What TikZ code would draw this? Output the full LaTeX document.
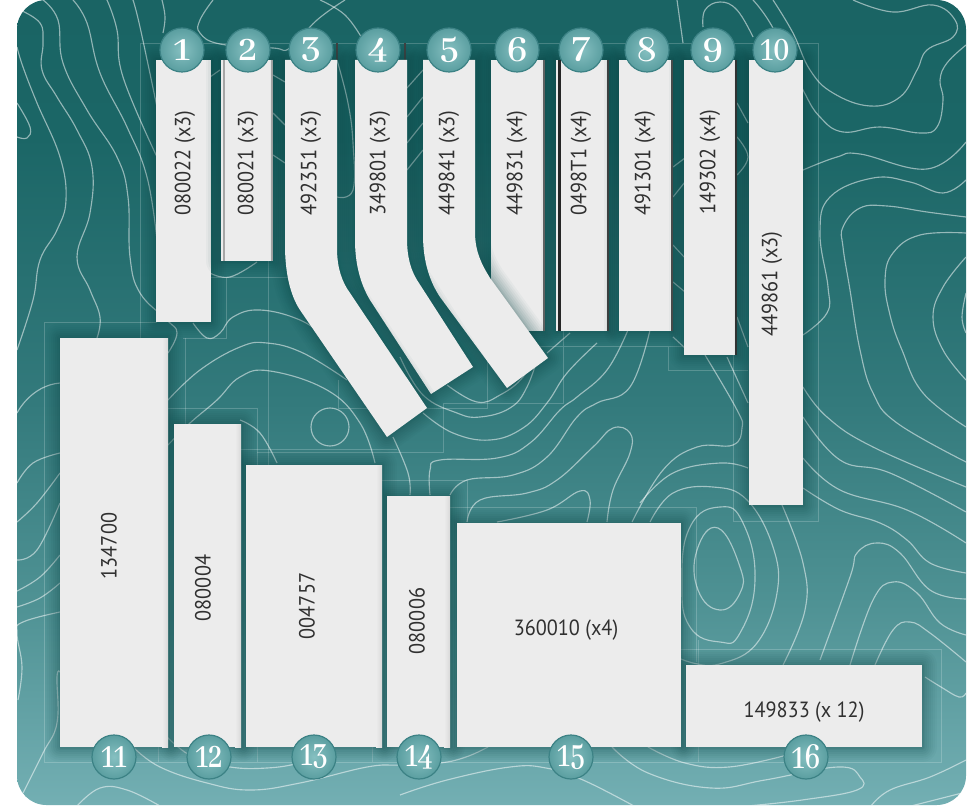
\documentclass[tikz,border=0pt]{standalone}
\usepackage{fontspec}
\usepackage{graphicx}
\setmainfont{PT Sans}
\newfontfamily\badgefont{Abhaya Libre}
\definecolor{bgA}{HTML}{1A6464}
\definecolor{bgB}{HTML}{1B6666}
\definecolor{bgC}{HTML}{337A7C}
\definecolor{bgD}{HTML}{4F9294}
\definecolor{bgE}{HTML}{73AFB3}
\definecolor{stripc}{HTML}{ECECEC}
\definecolor{shadowc}{HTML}{0C4444}
\definecolor{badgeIn}{HTML}{86C0C1}
\definecolor{badgeOut}{HTML}{5A9EA0}
\definecolor{badgeRim}{HTML}{3C8285}
\definecolor{textc}{HTML}{303030}
\pgfdeclareverticalshading{bgshade}{100bp}{color(0bp)=(bgE); color(25bp)=(bgE); color(37.5bp)=(bgD); color(50bp)=(bgC); color(66.5bp)=(bgB); color(75bp)=(bgA); color(100bp)=(bgA)}
\tikzset{
  contour/.style={draw=white,draw opacity=.52,line width=.85pt,line join=round},
  gridline/.style={draw=white,draw opacity=.2,line width=.6pt},
  stripfill/.style={fill=stripc,draw=none},
  edgeline/.style={draw=#1,line width=1.5pt},
  striplabel/.style={text=textc,font=\fontsize{16.5}{18}\selectfont,inner sep=0pt,rotate=90},
  flatlabel/.style={text=textc,font=\fontsize{16.5}{18}\selectfont,inner sep=0pt},
  badge/.style={circle,minimum size=33pt,inner sep=0pt,draw=badgeRim,line width=.9pt,
    inner color=badgeIn,outer color=badgeOut,text=white,
    font=\badgefont\bfseries\fontsize{30}{30}\selectfont}
}
\newcommand{\softshadow}[1]{%
  \foreach \wd/\op in {30/.035,26/.04,22/.045,18/.05,14/.055,10/.06,6/.07,3/.08}{%
    \draw[line width=\wd*0.75pt,draw=shadowc,opacity=\op,line join=round] #1;}}
\newcommand{\softpath}[1]{\softshadow{#1}\fill[stripfill] #1;}
\newcommand{\barstrip}[4]{\softpath{(#1,#2) rectangle (#3,#4)}}
\newcommand{\lowshadow}[4]{\softshadow{(#1,#2) rectangle (#3,#4)}}
\newcommand{\lowstrip}[4]{\fill[stripfill] (#1,#2) rectangle (#3,#4);
  \shade[left color=stripc,right color=black!8!stripc] (#3-6,#2) rectangle (#3,#4);}
\newcommand{\narrow}[1]{\scalebox{.92}[1]{#1}}
\newcommand{\pair}[1]{\scalebox{.76}[1]{#1}}
\newcommand{\cl}[1]{\draw[contour] plot[smooth,tension=.7] coordinates {#1};}
\begin{document}
\begin{tikzpicture}[x=0.75pt,y=-0.75pt]
\useasboundingbox (0,0) rectangle (970,809);
\fill[white] (0,0) rectangle (970,809);
\path[shading=bgshade,rounded corners=22pt] (17,0) rectangle (966,805);
\begin{scope}
\clip[rounded corners=22pt] (17,0) rectangle (966,805);
% contour lines
\cl{(20,10)(40,23)(43,43)(42,70)(57,97)(77,130)(92,167)(90,213)(77,257)(90,290)(100,317)(97,338)}
\cl{(17,47)(23,67)(37,103)(60,157)(66,200)(57,230)(40,260)(33,300)(17,350)}
\cl{(17,103)(30,127)(27,138)(17,137)}
\cl{(43,0)(58,20)(63,63)(87,110)(117,157)(128,197)(130,257)(140,293)(167,320)(177,333)(168,353)}
\cl{(73,0)(87,23)(100,73)(127,127)(147,177)(157,240)}
\cl{(107,0)(117,30)(123,77)(157,157)}
\cl{(133,0)(140,27)(157,107)}
\cl{(162,0)(165,17)(163,33)}
\cl{(213,0)(200,20)(200,33)(220,44)(273,48)(290,48)(317,20)(345,0)}
\cl{(320,0)(345,15)(363,40)}
\cl{(337,60)(348,103)(353,143)(353,190)(337,197)}
\cl{(273,75)(285,82)}
\cl{(273,113)(285,125)}
\cl{(273,155)(285,163)}
\cl{(210,77)(220,70)}
\cl{(407,88)(423,70)}
\cl{(407,117)(423,97)}
\cl{(407,143)(423,123)}
\cl{(407,170)(423,150)}
\cl{(210,273)(230,277)(257,262)}
\cl{(193,323)(207,338)(220,333)(233,317)(260,310)(300,320)(330,340)}
\cl{(17,413)(60,383)(168,400)}
\cl{(168,400)(200,370)(240,347)(267,343)(303,353)(347,380)}
\cl{(168,445)(190,423)(217,400)(240,377)(270,371)(327,390)(360,423)(375,463)}
\cl{(17,483)(33,463)(60,453)}
\cl{(17,522)(37,503)(60,473)}
\cl{(17,560)(37,550)(60,503)}
\cl{(17,591)(40,577)(60,555)}
\cl{(17,607)(40,598)(60,583)}
\cl{(60,612)(23,622)(17,633)(22,667)(18,700)}
\cl{(60,672)(57,677)(57,723)(43,753)(23,793)}
\cl{(77,806)(100,788)(127,790)(160,806)}
\cl{(133,747)(160,767)(207,783)(250,790)(300,783)(367,767)(400,765)(440,763)(466,757)(488,747)}
\cl{(167,737)(193,757)(230,767)(267,768)(300,763)(333,753)}
\cl{(400,795)(447,780)(510,767)(546,768)(583,780)(634,806)}
\cl{(612,747)(648,773)(711,788)(765,780)(838,767)(860,777)(857,790)(802,800)(747,806)}
\cl{(648,747)(685,763)(729,767)(787,755)}
\cl{(871,806)(890,790)(930,777)(966,760)}
\cl{(911,806)(966,792)}
\cl{(925,677)(941,687)(959,697)(966,693)}
\cl{(705,355)(737,410)(742,428)(733,445)(697,447)(663,470)(632,522)}
\cl{(727,357)(748,403)}
\cl{(737,103)(748,123)}
\cl{(737,137)(748,157)(737,175)}
\cl{(673,167)(685,158)}
\cl{(673,197)(685,182)}
\cl{(673,245)(685,258)}
\cl{(673,282)(685,292)}
\cl{(673,337)(685,348)}
\cl{(737,317)(748,347)}
\cl{(650,522)(673,493)(713,487)(747,500)(773,547)(777,593)(757,643)(723,663)(693,663)(657,648)}
\cl{(640,503)(673,473)(720,463)(748,468)}
\cl{(782,505)(803,563)(805,610)(783,665)}
\cl{(773,0)(793,33)(810,70)(833,93)(870,106)(900,97)(917,70)(927,50)(953,37)(955,20)(933,5)(893,12)(853,0)}
\cl{(753,0)(773,28)(803,90)(820,117)(843,132)(880,127)(920,133)(937,127)(943,100)(940,80)(947,63)(966,45)}
\cl{(703,27)(705,10)(720,2)(737,10)(753,37)}
\cl{(677,0)(683,43)}
\cl{(803,170)(837,157)(860,154)(927,169)(966,142)}
\cl{(803,335)(827,313)(828,287)(820,233)(830,197)(873,178)(910,182)(943,193)(966,180)}
\cl{(966,217)(927,212)(887,206)(860,208)(843,227)(843,247)(850,290)(860,350)(873,393)(897,423)(966,462)}
\cl{(966,233)(920,235)(893,253)(885,280)(890,315)(902,350)(923,393)(966,427)}
\cl{(966,257)(943,287)(933,317)(943,350)(966,380)}
\cl{(966,293)(962,317)(966,333)}
\cl{(803,387)(827,417)(873,447)(966,487)}
\cl{(803,417)(840,460)(890,473)(966,512)}
\cl{(803,458)(840,490)(907,510)(966,543)}
\cl{(803,488)(840,510)(880,523)(907,540)(930,563)(966,573)}
\cl{(820,660)(850,577)(857,553)(877,543)(900,553)(930,590)(966,599)}
\cl{(850,665)(873,600)(893,582)(917,593)(940,623)(966,635)}
\cl{(875,665)(893,630)(910,622)(930,633)(966,662)}
\cl{(447,385)(477,402)(500,395)(523,377)(537,350)}
\cl{(547,353)(570,333)}
\cl{(400,357)(423,395)(457,413)(480,417)(510,408)(527,387)(540,350)}
\cl{(423,413)(453,433)(490,440)(523,428)(547,403)(567,373)(597,343)}
\cl{(430,495)(430,470)(440,460)(497,458)(530,443)(560,410)(577,397)(607,370)(628,330)}
\cl{(450,495)(467,480)(513,475)(547,457)(577,417)(597,403)(630,387)(650,330)}
\cl{(467,522)(480,500)(527,493)(557,480)(593,447)(613,428)(630,433)(630,453)(613,490)(607,522)}
\cl{(497,522)(547,510)(580,491)(590,500)(587,522)}
\cl{(393,437)(408,473)(410,495)}
\cl{(240,420)(260,433)(277,463)}
\draw[contour] plot[smooth cycle,tension=.8] coordinates {(718,528)(740,567)(740,593)(720,610)(698,590)(697,550)};
\draw[contour] plot[smooth cycle,tension=.8] coordinates {(720,507)(743,523)(755,580)(740,633)(720,642)(690,627)(682,583)(690,527)};
\coordinate (ringc) at (330,427);
\draw[contour] (ringc) circle[radius=19];
% thin frame lines
\draw[gridline] (44,762) -- (44,322) -- (157,322);
\draw[gridline] (44,762) -- (941,762) -- (941,649) -- (681,649);
\draw[gridline] (140,338) -- (140,43) -- (818,43) -- (818,521) -- (733,521) -- (733,350);
\draw[gridline] (668,370) -- (748,370) (668,347) -- (668,370);
\draw[gridline] (183,338) -- (226,338) -- (226,277) (210,277) -- (300,277);
\draw[gridline] (185,338) -- (185,424);
\draw[gridline] (168,408) -- (257,408) -- (257,762);
\draw[gridline] (268,260) -- (268,465);
\draw[gridline] (158,747) -- (158,762) (372,747) -- (372,762) (698,640) -- (698,762);
\draw[gridline] (528,346) -- (683,346) (563,330) -- (563,403) -- (443,403) -- (443,452) -- (257,452);
\draw[gridline] (240,449) -- (397,449) (382,480) -- (467,480) -- (467,522);
\draw[gridline] (338,380) -- (338,408) -- (487,408) -- (487,330);
\draw[gridline] (450,507) -- (696,507) -- (696,662);
\end{scope}
% dark slivers
\draw[draw=black!75,line width=.8pt] (337,43) -- (337,60) (405,43) -- (405,60);
% strips
\barstrip{156}{60}{211}{322}
\barstrip{221}{60}{272}{261}
\draw[edgeline=gray!70] (223.5,60) -- (223.5,261) (271.5,60) -- (271.5,261);
\barstrip{491}{60}{544}{331}
\draw[edgeline=gray!80!black] (543.5,60) -- (543.5,331);
\barstrip{556}{60}{608}{331}
\draw[edgeline=gray!30!black,line width=2pt] (559.5,60) -- (559.5,331);
\draw[edgeline=gray!50!black] (607.5,60) -- (607.5,331);
\barstrip{619}{60}{672}{331}
\draw[edgeline=gray!60!black] (671.5,60) -- (671.5,331);
\barstrip{684}{60}{736}{355}
\draw[edgeline=gray!40!black] (735.5,60) -- (735.5,355);
\barstrip{749}{60}{803}{505}
\softpath{(423,60) -- (423,235) .. controls (423,262) and (430,282) .. (440,297) -- (507,388) -- (548,358) -- (490,278) .. controls (482,265) and (475,252) .. (475,232) -- (475,60) -- cycle}
\softpath{(355,60) -- (355,240) .. controls (355,265) and (361,285) .. (370,300) -- (431,394) -- (473,367) -- (417,280) .. controls (411,270) and (407,258) .. (407,238) -- (407,60) -- cycle}
\softpath{(285,60) -- (285,245) .. controls (285,272) and (290,295) .. (300,310) -- (387,437) -- (427,408) -- (350,293) .. controls (342,282) and (337,268) .. (337,248) -- (337,60) -- cycle}
\lowshadow{60}{338}{168}{747}
\lowshadow{174}{424}{241}{747}
\lowshadow{246}{465}{382}{747}
\lowshadow{387}{496}{450}{747}
\lowshadow{457}{523}{681}{747}
\lowshadow{686}{665}{922}{747}
\lowstrip{60}{338}{168}{747}
\lowstrip{174}{424}{241}{747}
\lowstrip{246}{465}{382}{747}
\lowstrip{387}{496}{450}{747}
\fill[stripfill] (457,523) rectangle (681,747);
\fill[stripfill] (686,665) rectangle (922,747);
% labels
\node[striplabel] (t1) at (185,163) {\narrow{080022 (x3)}};
\node[striplabel] (t2) at (248,163) {\narrow{080021 (x3)}};
\node[striplabel] (t3) at (311,163) {\narrow{492351 (x3)}};
\node[striplabel] (t4) at (380,163) {\narrow{349801 (x3)}};
\node[striplabel] (t5) at (449,163) {\narrow{449841 (x3)}};
\node[striplabel] (t6) at (517,163) {\narrow{449831 (x4)}};
\node[striplabel] (t7) at (581,163) {\narrow{0498T1 (x4)}};
\node[striplabel] (t8) at (645,163) {\narrow{491301 (x4)}};
\node[striplabel] (t9) at (710,162) {\narrow{149302 (x4)}};
\node[striplabel] (t10) at (772,284) {\narrow{449861 (x3)}};
\node[striplabel] (t11) at (109,546) {\narrow{134700}};
\node[striplabel] (t12) at (203,588) {\narrow{080004}};
\node[striplabel] (t13) at (307,606) {\narrow{004757}};
\node[striplabel] (t14) at (417,621) {\narrow{080006}};
\node[flatlabel] (t15) at (566,630) {\narrow{360010 (x4)}};
\node[flatlabel] (t16) at (804,712) {\narrow{149833 (x 12)}};
% badges
\node[badge] (b1) at (182,50) {1};
\node[badge] (b2) at (248,50) {2};
\node[badge] (b3) at (311,50) {3};
\node[badge] (b4) at (378,50) {4};
\node[badge] (b5) at (449,50) {5};
\node[badge] (b6) at (517,50) {6};
\node[badge] (b7) at (581,50) {7};
\node[badge] (b8) at (647,50) {8};
\node[badge] (b9) at (713,50) {9};
\node[badge] (b10) at (775,50) {\pair{10}};
\node[badge] (b11) at (114,757) {\pair{11}};
\node[badge] (b12) at (209,757) {\pair{12}};
\node[badge] (b13) at (314,757) {\pair{13}};
\node[badge] (b14) at (419,757) {\pair{14}};
\node[badge] (b15) at (571,757) {\pair{15}};
\node[badge] (b16) at (806,757) {\pair{16}};
\end{tikzpicture}
\end{document}
